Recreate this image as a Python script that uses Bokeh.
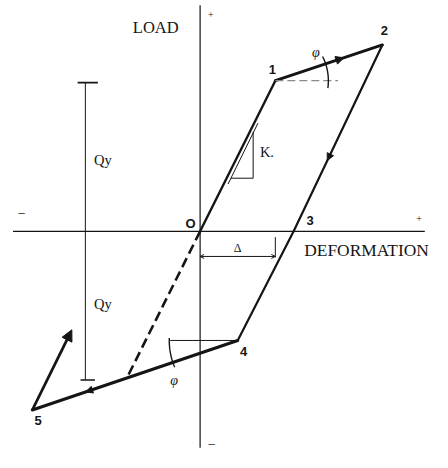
import numpy as np
from bokeh.plotting import figure
from bokeh.models import Range1d, Arrow, NormalHead, OpenHead
from bokeh.core.properties import value
from bokeh.embed import file_html
from bokeh.resources import INLINE

# ---- data (arbitrary units, origin at O) ----
path_labels = ["O", "1", "2", "3", "4", "5"]
deformation = [0, 78, 189, 97, 39, -174]
load = [0, 156, 193, 0, -113, -185]
reload_x = [-174, -133]          # reloading branch leaving point 5
reload_y = [-185, -102]
virgin_x = [0, -75]              # elastic line continued (dashed)
virgin_y = [0, -150]
qy = 154                         # yield load Qy
delta_y = 78                     # yield deformation

INK = "#151515"
SERIF = value("Liberation Serif")
SANS = value("Liberation Sans")

p = figure(width=432, height=452, output_backend="svg", toolbar_location=None,
           x_range=Range1d(-207, 241), y_range=Range1d(-229, 239),
           x_axis_location=None, y_axis_location=None, min_border=0)
p.grid.visible = False
p.outline_line_color = None
p.background_fill_color = "white"
p.border_fill_color = "white"

# coordinate axes
p.line([-194, 233], [0, 0], line_color=INK, line_width=1.2)
p.line([0, 0], [-224, 234], line_color=INK, line_width=1.2)

# hysteresis loop segments
widths = [2.4, 3.0, 2.2, 2.2, 3.0]
for i in range(5):
    p.line(deformation[i:i + 2], load[i:i + 2], line_color=INK,
           line_width=widths[i], line_cap="round")

# dashed elastic continuation
p.line(virgin_x, virgin_y, line_color=INK, line_width=2.6, line_dash="10 5")

# reloading arrow from 5
p.add_layout(Arrow(end=NormalHead(size=11, fill_color=INK, line_color=INK),
                   x_start=reload_x[0], y_start=reload_y[0],
                   x_end=reload_x[1], y_end=reload_y[1],
                   line_color=INK, line_width=2.8))

# direction arrowheads along the path
def mid_arrow(i, t, size):
    x0, y0 = deformation[i], load[i]
    x1, y1 = deformation[i + 1], load[i + 1]
    xs, ys = x0 + (t - 0.04) * (x1 - x0), y0 + (t - 0.04) * (y1 - y0)
    xe, ye = x0 + t * (x1 - x0), y0 + t * (y1 - y0)
    p.add_layout(Arrow(end=NormalHead(size=size, fill_color=INK, line_color=INK),
                       x_start=xs, y_start=ys, x_end=xe, y_end=ye,
                       line_alpha=0))

mid_arrow(1, 0.64, 8)
mid_arrow(2, 0.62, 7)
mid_arrow(4, 0.74, 7)

# angle phi at point 1
x1, y1 = deformation[1], load[1]
p.line([x1, 143], [y1, y1], line_color="#8a8a8a", line_width=1.3, line_dash="8 4")
a = np.radians(np.linspace(-8, 27, 30))
p.line(x1 + 55 * np.cos(a), y1 + 55 * np.sin(a), line_color=INK, line_width=1.4)

# angle phi at point 4
x4, y4 = deformation[4], load[4]
p.line([-31, x4], [y4, y4], line_color=INK, line_width=1.0)
a = np.radians(np.linspace(178, 203, 30))
p.line(x4 + 71 * np.cos(a), y4 + 71 * np.sin(a), line_color=INK, line_width=1.4)

# Qy dimension line
p.line([-119, -119], [-qy, qy], line_color=INK, line_width=1.0)
p.line([-127, -106], [qy, qy], line_color=INK, line_width=1.8)
p.line([-124, -109], [-qy, -qy], line_color=INK, line_width=1.4)

# yield deformation dimension
p.line([delta_y, delta_y], [-6, -27], line_color=INK, line_width=1.0)
p.add_layout(Arrow(start=OpenHead(size=4, line_color=INK, line_width=1),
                   end=OpenHead(size=4, line_color=INK, line_width=1),
                   x_start=0, y_start=-26, x_end=delta_y, y_end=-26,
                   line_color=INK, line_width=1.0))

# stiffness triangle
p.line([29, 60], [49, 112], line_color=INK, line_width=1.0)
p.line([32, 55, 55], [55, 55, 103], line_color=INK, line_width=1.0)

# point labels
p.text(x=[-10, 75, 191, 114, 45, -168], y=[8, 168, 208, 11, -124, -196],
       text=path_labels, text_font=SANS, text_font_style="bold",
       text_font_size="13px", text_align="center", text_baseline="middle",
       text_color=INK)

# axis titles and signs
p.text(x=[-46], y=[211], text=["LOAD"], text_font=SERIF, text_font_size="16.5px",
       text_align="center", text_baseline="middle", text_color=INK)
p.text(x=[108], y=[-19], text=["DEFORMATION"], text_font=SERIF,
       text_font_size="17.4px", text_align="left", text_baseline="middle",
       text_color=INK)
p.text(x=[11, 227], y=[224, 13], text=["+", "+"], text_font=SERIF,
       text_font_size="10px", text_align="center", text_baseline="middle",
       text_color=INK)
p.text(x=[-185, 12], y=[19, -220], text=["\u2212", "\u2212"], text_font=SERIF,
       text_font_size="14px", text_align="center", text_baseline="middle",
       text_color=INK)

# dimension labels
p.text(x=[-110, -110], y=[74, -75], text=["Qy", "Qy"], text_font=SERIF,
       text_font_size="14.5px", text_align="left", text_baseline="middle",
       text_color=INK)
p.text(x=[62], y=[82], text=["K."], text_font=SERIF, text_font_size="14.5px",
       text_align="left", text_baseline="middle", text_color=INK)
p.text(x=[120, -27], y=[185, -154], text=["\u03c6", "\u03c6"], text_font=SERIF,
       text_font_style="italic", text_font_size="14px", text_align="center",
       text_baseline="middle", text_color=INK)
p.text(x=[39], y=[-17], text=["\u0394"], text_font=SERIF, text_font_size="12px",
       text_align="center", text_baseline="middle", text_color=INK)

open("out.html", "w").write(file_html(p, INLINE))
